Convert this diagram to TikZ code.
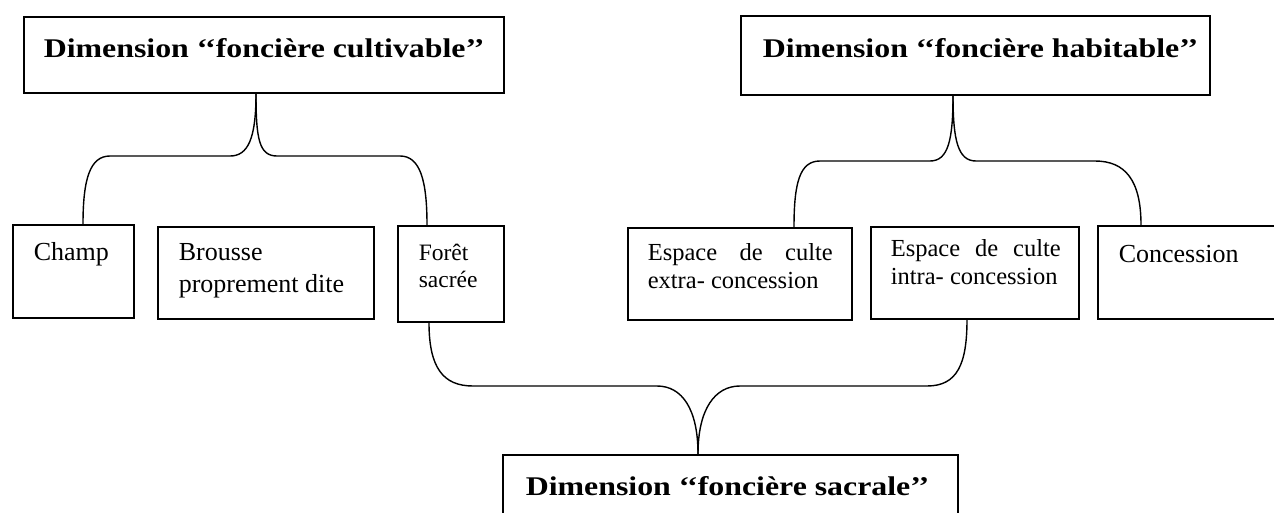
\documentclass[tikz,border=0pt]{standalone}
\usepackage{fontspec}
\setmainfont{Liberation Serif}
\usepackage{graphicx}
\newcommand\ttl[1]{\scalebox{1.18}[1]{\fontsize{27}{32}\selectfont\bfseries #1}}
\newcommand\bxc[6]{\hbox to #1{\hspace*{#2}\parbox[t][#3][t]{#4}{\hyphenpenalty=10000\rule{0pt}{#5}#6}\hss}}
\tikzset{
  box/.style={draw, line width=1.6pt, inner sep=0pt, anchor=north west, font=\fontsize{26}{31}\selectfont},
  brace/.style={draw, line width=1.4pt}
}
\begin{document}
\begin{tikzpicture}[x=1pt,y=-1pt]
\useasboundingbox (0,0) rectangle (1274,512);
% title boxes
\node[box] (c1) at (23,16) {\bxc{480pt}{20pt}{76pt}{450pt}{41pt}{\ttl{Dimension ‘‘foncière cultivable’’}}};
\node[box] (c2) at (740,15) {\bxc{469pt}{22pt}{79pt}{440pt}{42pt}{\ttl{Dimension ‘‘foncière habitable’’}}};
\node[box] (c3) at (502,454) {\bxc{455pt}{23pt}{80pt}{425pt}{41pt}{\ttl{Dimension ‘‘foncière sacrale’’}}};
% element boxes
\node[box] (champ) at (12,224) {\bxc{121pt}{21pt}{93pt}{95pt}{36pt}{Champ}};
\node[box] (brousse) at (157,226) {\bxc{216pt}{21pt}{92pt}{190pt}{34pt}{\fontsize{26}{32}\selectfont Brousse\\proprement dite}};
\node[box] (foret) at (397,225) {\bxc{106pt}{21pt}{96pt}{80pt}{35pt}{\fontsize{23.5}{27}\selectfont Forêt\\sacrée}};
\node[box] (extra) at (627,227) {\bxc{224pt}{20pt}{92pt}{185pt}{33pt}{\fontsize{24.5}{28}\selectfont Espace de culte\linebreak extra- concession}};
\node[box] (intra) at (870,226) {\bxc{208pt}{20pt}{92pt}{170pt}{30pt}{\fontsize{24.5}{28}\selectfont Espace de culte\linebreak intra- concession}};
\node[box] (conc) at (1097,225) {\bxc{177pt}{21pt}{93pt}{150pt}{37pt}{Concession}};
% brace tips
\coordinate (t1) at ([xshift=233pt]c1.south west);
\coordinate (t2) at ([xshift=213pt]c2.south west);
\coordinate (t3) at ([xshift=196pt]c3.north west);
% top-left brace
\draw[brace] (t1) .. controls +(0,45) and +(18,0) .. (230,156) -- (110,156)
  .. controls +(-20,0) and +(0,-45) .. ([xshift=71pt]champ.north west);
\draw[brace] (t1) .. controls +(0,45) and +(-18,0) .. (277,156) -- (400,156)
  .. controls +(20,0) and +(0,-45) .. ([xshift=30pt]foret.north west);
% top-right brace
\draw[brace] (t2) .. controls +(0,45) and +(18,0) .. (930,161) -- (820,161)
  .. controls +(-20,0) and +(0,-45) .. ([xshift=167pt]extra.north west);
\draw[brace] (t2) .. controls +(0,45) and +(-18,0) .. (976,161) -- (1095,161)
  .. controls +(30,0) and +(0,-45) .. ([xshift=44pt]conc.north west);
% bottom brace
\draw[brace] ([xshift=32pt]foret.south west) .. controls +(0,45) and +(-30,0) .. (473,386) -- (657,386)
  .. controls +(25,0) and +(0,-45) .. (t3);
\draw[brace] (t3) .. controls +(0,-45) and +(-25,0) .. (740,386) -- (927,386)
  .. controls +(30,0) and +(0,45) .. ([xshift=97pt]intra.south west);
\end{tikzpicture}
\end{document}
